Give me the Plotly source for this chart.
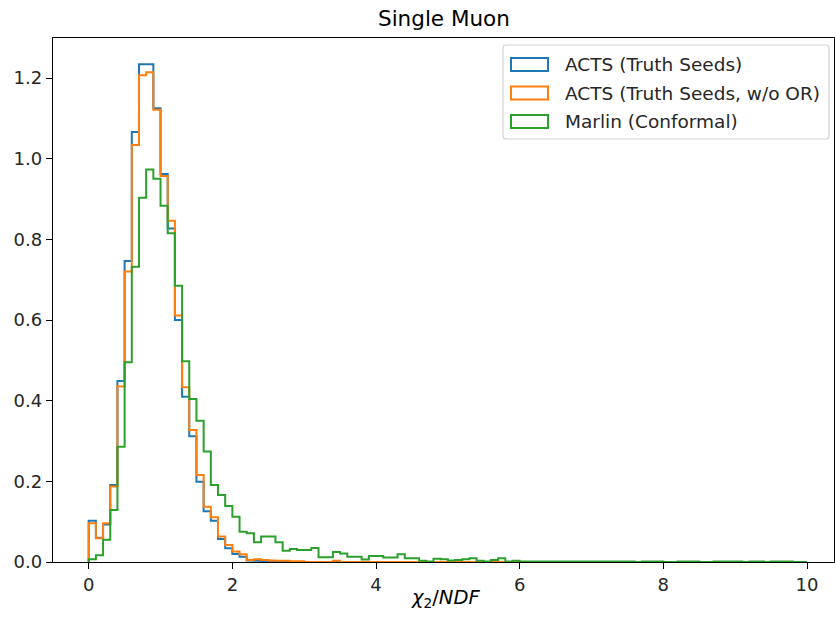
import numpy as np
import plotly.graph_objects as go

# ---------------- data (density per 0.1 bin, 0..10) ----------------
bin_edges = np.round(np.arange(0, 10.0001, 0.1), 2)

acts_truth = [
    0.102, 0.060, 0.093, 0.191, 0.449, 0.746, 1.066, 1.234, 1.234, 1.125,
    0.962, 0.827, 0.600, 0.410, 0.312, 0.199, 0.126, 0.102, 0.057, 0.034,
    0.020, 0.013, 0.004, 0.003, 0.002, 0.001, 0.001, 0.000, 0.000, 0.000,
] + [0.0] * 70

acts_truth_noor = [
    0.096, 0.059, 0.096, 0.187, 0.435, 0.720, 1.034, 1.207, 1.214, 1.121,
    0.957, 0.846, 0.611, 0.433, 0.327, 0.216, 0.137, 0.111, 0.063, 0.042,
    0.026, 0.019, 0.005, 0.007, 0.005, 0.004, 0.003, 0.003, 0.002, 0.002,
    0.000, 0.000, 0.000, 0.000, 0.003,
] + [0.0] * 65

marlin = [
    0.007, 0.017, 0.055, 0.129, 0.286, 0.495, 0.732, 0.903, 0.973, 0.950,
    0.883, 0.815, 0.685, 0.498, 0.404, 0.350, 0.274, 0.191, 0.166, 0.139,
    0.112, 0.075, 0.071, 0.049, 0.063, 0.063, 0.049, 0.028, 0.032, 0.030,
    0.030, 0.035, 0.012, 0.012, 0.025, 0.021, 0.013, 0.013, 0.006, 0.015,
    0.015, 0.011, 0.011, 0.019, 0.009, 0.009, 0.003, 0.001, 0.008, 0.007,
    0.004, 0.005, 0.007, 0.009, 0.003, 0.001, 0.005, 0.009, 0.001, 0.003,
    0.001, 0.001, 0.001, 0.001, 0.001, 0.001, 0.001, 0.001, 0.001, 0.001,
    0.001, 0.001, 0.001, 0.001, 0.001, 0.001, 0.000, 0.001, 0.001, 0.001,
    0.000, 0.000, 0.001, 0.001, 0.001, 0.000, 0.000, 0.001, 0.001, 0.001,
    0.001, 0.000, 0.001, 0.001, 0.000, 0.001, 0.001, 0.001, 0.000, 0.000,
]

series_names = ["ACTS (Truth Seeds)", "ACTS (Truth Seeds, w/o OR)", "Marlin (Conformal)"]
series_values = [acts_truth, acts_truth_noor, marlin]
colors = ["#1f77b4", "#ff7f0e", "#2ca02c"]

# ---------------- figure ----------------
W, H = 835, 623
# plot area in page pixels
PL, PR, PT, PB = 53, 834, 38, 562
L, T = PL, PT
R = W - PR
B = H - PB
pw, ph = W - L - R, H - T - B

fig = go.Figure()
for name, vals, col in zip(series_names, series_values, colors):
    xs = [bin_edges[0]] + list(bin_edges)
    ys = [0.0] + list(vals) + [0.0]
    fig.add_trace(go.Scatter(
        x=xs, y=ys, mode="lines", line=dict(color=col, width=2.0, shape="hv"),
        name=name, showlegend=False, hoverinfo="skip"))

px_per_unit = (807.0 - 88.7) / 10.0
x0 = 0 - (88.7 - PL) / px_per_unit
x1 = 10 + (PR - 807.0) / px_per_unit
ymax = (PB - PT) / ((PB - 78) / 1.2)

def px(xp):  # page pixel -> paper
    return (xp - L) / pw

def py(yp):
    return (H - B - yp) / ph

font = "DejaVu Sans, Arial, sans-serif"
shapes = []
annotations = []

# title
annotations.append(dict(text="Single Muon", x=px(444), y=py(19), xref="paper", yref="paper",
                        showarrow=False, xanchor="center", yanchor="middle",
                        font=dict(family=font, size=21.5, color="black")))
# x label
annotations.append(dict(text="<i>χ</i><sub>2</sub>/<i>NDF</i>", x=px(445), y=py(598), xref="paper",
                        yref="paper", showarrow=False, xanchor="center", yanchor="middle",
                        font=dict(family=font, size=19.5, color="black")))

# legend box (rounded)
lx0, lx1, ly0, ly1, r = 503, 829, 45, 139, 3
def P(a, b):
    return f"{px(a):.5f},{py(b):.5f}"
path = (f"M {P(lx0 + r, ly0)} L {P(lx1 - r, ly0)} Q {P(lx1, ly0)} {P(lx1, ly0 + r)} "
        f"L {P(lx1, ly1 - r)} Q {P(lx1, ly1)} {P(lx1 - r, ly1)} L {P(lx0 + r, ly1)} "
        f"Q {P(lx0, ly1)} {P(lx0, ly1 - r)} L {P(lx0, ly0 + r)} Q {P(lx0, ly0)} {P(lx0 + r, ly0)} Z")
shapes.append(dict(type="path", path=path, xref="paper", yref="paper",
                   line=dict(color="#d3d3d3", width=1.2), fillcolor="rgba(255,255,255,0.8)", layer="above"))
rows = [64.5, 93, 121.5]
for name, col, yc in zip(series_names, colors, rows):
    shapes.append(dict(type="rect", xref="paper", yref="paper", x0=px(511), x1=px(548),
                       y0=py(yc + 6.5), y1=py(yc - 6.5), line=dict(color=col, width=2.0),
                       fillcolor="rgba(0,0,0,0)", layer="above"))
    annotations.append(dict(text=name, x=px(563), y=py(yc), xref="paper", yref="paper",
                            showarrow=False, xanchor="left", yanchor="middle",
                            font=dict(family=font, size=18.5, color="#262626")))

axis_common = dict(showgrid=False, zeroline=False, showline=True, linecolor="black", linewidth=1.3,
                   mirror=True, ticks="outside", ticklen=6, tickwidth=1.3, tickcolor="black",
                   tickfont=dict(family=font, size=18, color="#262626"))
fig.update_layout(
    width=W, height=H,
    margin=dict(l=L, r=R, t=T, b=B, pad=0),
    paper_bgcolor="white", plot_bgcolor="white",
    font=dict(family=font, size=18, color="black"),
    shapes=shapes, annotations=annotations,
    xaxis=dict(range=[x0, x1], tickvals=[0, 2, 4, 6, 8, 10],
               ticktext=["0", "2", "4", "6", "8", "10"], **axis_common),
    yaxis=dict(range=[0, ymax], tickvals=[0, 0.2, 0.4, 0.6, 0.8, 1.0, 1.2],
               ticktext=["0.0", "0.2", "0.4", "0.6", "0.8", "1.0", "1.2"], **axis_common),
)

fig.write_html("out.html", config={"displayModeBar": False},
               post_script="document.body.style.margin='0px';document.body.style.overflow='hidden';")
